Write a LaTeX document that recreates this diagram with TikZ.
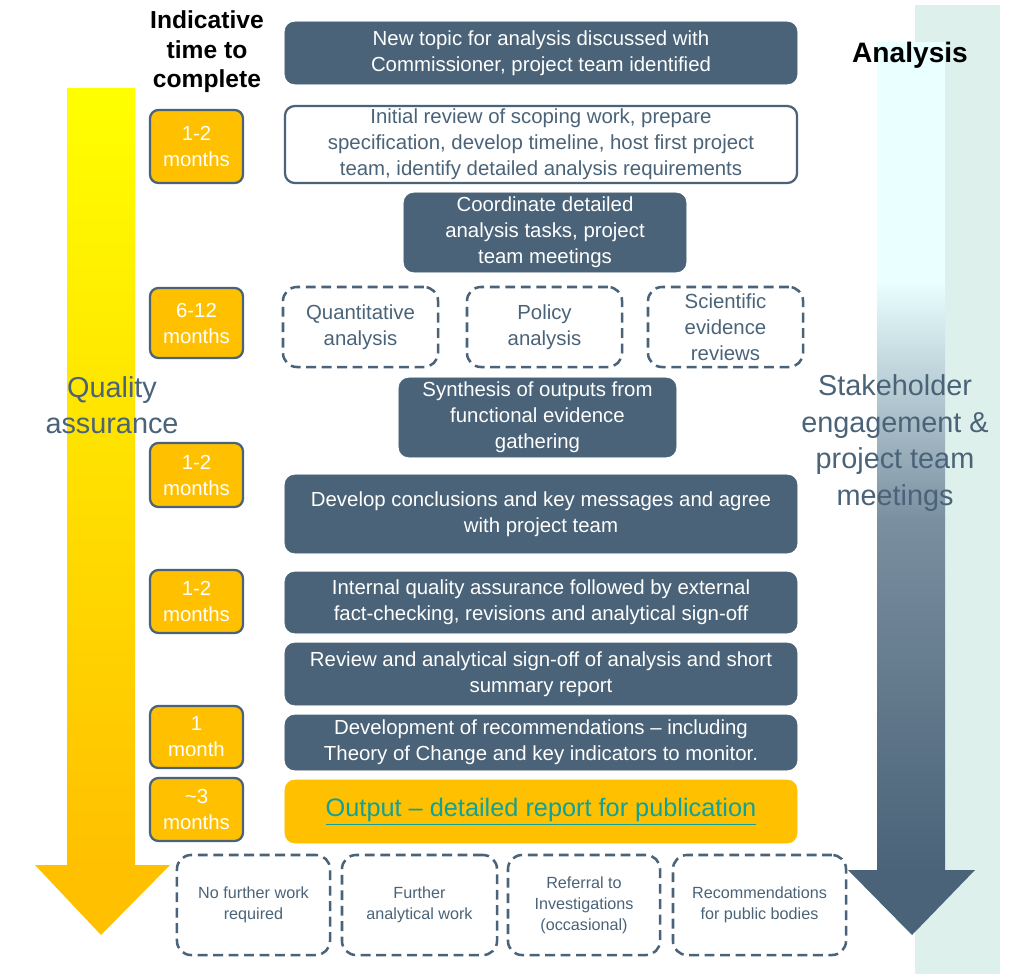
\documentclass[tikz,border=0pt]{standalone}
\usepackage{fontspec}
\setmainfont{Liberation Sans}
\usepackage{xcolor}
\usetikzlibrary{positioning}
\definecolor{slate}{HTML}{4A6378}
\definecolor{midslate}{HTML}{7A8FA0}
\definecolor{amber}{HTML}{FFC000}
\definecolor{paleteal}{HTML}{DDF0EC}
\definecolor{palecyan}{HTML}{EAFFFF}
\definecolor{linkteal}{HTML}{11A09A}
\tikzset{
  stage/.style={draw=slate,fill=slate,rounded corners=7pt,text=white,align=center,
    font=\fontsize{14.5}{18.5}\selectfont,inner sep=2pt},
  stagewide/.style={stage,minimum width=12.8cm},
  openstage/.style={stagewide,fill=white,line width=1.6pt,text=slate},
  option/.style={draw=slate,line width=1.8pt,dash pattern=on 7pt off 4pt,rounded corners=10pt,
    text=slate,align=center,font=\fontsize{14.5}{18.5}\selectfont},
  outcome/.style={option,font=\fontsize{11.5}{15}\selectfont,minimum height=2.5cm},
  timebox/.style={draw=slate,line width=1.6pt,fill=amber,rounded corners=6pt,text=white,align=center,
    minimum width=2.325cm,font=\fontsize{14.5}{18.5}\selectfont},
  sidelabel/.style={text=slate,align=center,font=\fontsize{20.5}{26}\selectfont}
}
\begin{document}
\begin{tikzpicture}[x=0.025cm,y=-0.025cm]
\useasboundingbox (0,0) rectangle (1024,974);

% background bands and gradient arrows
\fill[paleteal] (915,5) rectangle (1000,974);
\fill[palecyan] (877,42) rectangle (945,280);
\shade[top color=palecyan,bottom color=midslate] (877,280) rectangle (945,520);
\shade[top color=midslate,bottom color=slate] (877,519) rectangle (945,871);
\fill[slate] (848,870) -- (975,870) -- (912,935) -- cycle;
\shade[top color=yellow,bottom color=amber] (67,88) rectangle (135,866);
\fill[amber] (35,865) -- (170,865) -- (101,935) -- cycle;

% headings
\node[font=\bfseries\fontsize{17.5}{21}\selectfont,align=center] (timehead) at (207,52) {Indicative\\time to\\complete};
\node[font=\bfseries\fontsize{20}{24}\selectfont] (anhead) at (910,55) {Analysis};
\node[sidelabel] (qa) at (112,405) {Quality\\assurance};
\node[sidelabel] (stake) at (895,443) {Stakeholder\\engagement \&\\project team\\meetings};

% main stages
\node[stagewide,minimum height=1.55cm] (topic) at (541,53) {New topic for analysis discussed with\\Commissioner, project team identified};
\node[openstage,minimum height=1.925cm] (review) at (541,144.5) {Initial review of scoping work, prepare\\specification, develop timeline, host first project\\team, identify detailed analysis requirements};
\node[stage,minimum width=7.05cm,minimum height=1.975cm] (coord) at (545,232.5) {Coordinate detailed\\analysis tasks, project\\team meetings};
\node[option,minimum width=3.875cm,minimum height=2cm] (quant) at (360.5,327) {Quantitative\\analysis};
\node[option,minimum width=3.875cm,minimum height=2cm] (policy) at (544.5,327) {Policy\\analysis};
\node[option,minimum width=3.875cm,minimum height=2cm] (sci) at (725.5,327) {Scientific\\evidence\\reviews};
\node[stage,minimum width=6.925cm,minimum height=1.975cm] (synth) at (537.5,417.5) {Synthesis of outputs from\\functional evidence\\gathering};
\node[stagewide,minimum height=1.95cm] (concl) at (541,514) {Develop conclusions and key messages and agree\\with project team};
\node[stagewide,minimum height=1.525cm] (internal) at (541,602.5) {Internal quality assurance followed by external\\fact-checking, revisions and analytical sign-off};
\node[stagewide,minimum height=1.55cm] (signoff) at (541,674) {Review and analytical sign-off of analysis and short\\summary report};
\node[stagewide,minimum height=1.375cm] (recom) at (541,742.5) {Development of recommendations -- including\\Theory of Change and key indicators to monitor.};
\node[stagewide,draw=amber,fill=amber,text=linkteal,minimum height=1.575cm,font=\fontsize{18}{21}\selectfont] (output) at (541,811.5) {\underline{Output -- detailed report for publication}};

% outcomes
\node[outcome,minimum width=3.825cm] (nowork) at (253.5,905) {No further work\\required};
\node[outcome,minimum width=3.875cm] (further) at (419.5,905) {Further\\analytical work};
\node[outcome,minimum width=3.8cm] (referral) at (584,905) {Referral to\\Investigations\\(occasional)};
\node[outcome,minimum width=4.325cm] (pubrec) at (759.5,905) {Recommendations\\for public bodies};

% durations
\node[timebox,minimum height=1.825cm] (t1) at (196.5,146.5) {1-2\\months};
\node[timebox,minimum height=1.75cm] (t2) at (196.5,323) {6-12\\months};
\node[timebox,minimum height=1.6cm] (t3) at (196.5,475) {1-2\\months};
\node[timebox,minimum height=1.575cm] (t4) at (196.5,601.5) {1-2\\months};
\node[timebox,minimum height=1.55cm] (t5) at (196.5,737) {1\\month};
\node[timebox,minimum height=1.575cm] (t6) at (196.5,809.5) {\textasciitilde3\\months};
\end{tikzpicture}
\end{document}
